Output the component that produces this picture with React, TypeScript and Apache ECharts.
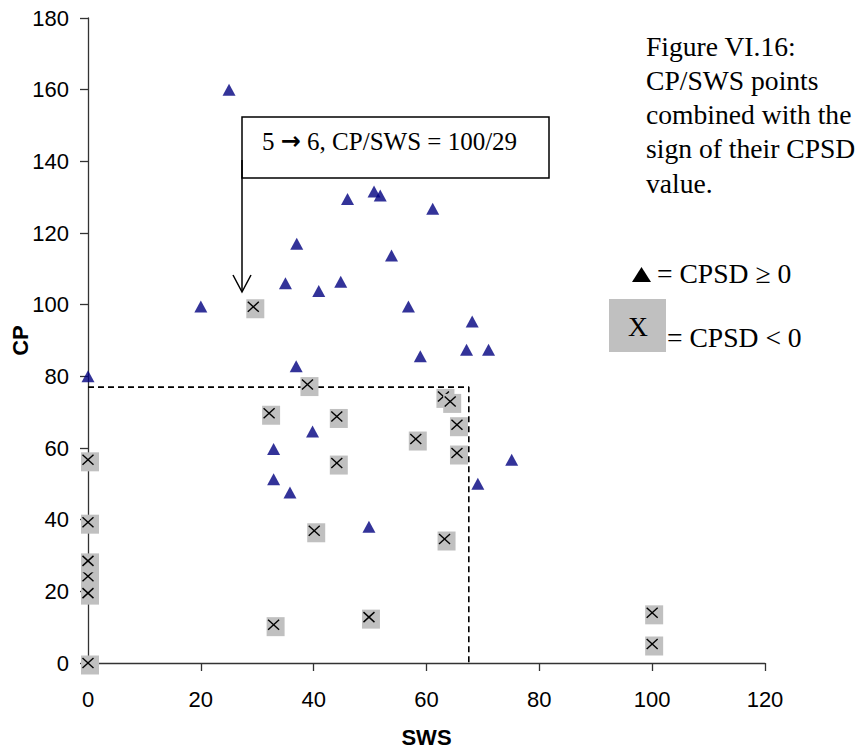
import React, { useEffect, useRef } from "react";
import * as echarts from "echarts";

// CPSD >= 0 points (triangles)
const posSWS = [25, 20, 35, 37, 46, 50.7, 51.8, 61.1, 53.8, 40.9, 44.8, 56.8, 68.1, 67.1, 71.0, 58.9, 0, 36.9, 32.9, 32.9, 35.8, 39.8, 75.1, 69.1, 49.8];
const posCP = [160, 99.5, 106, 117, 129.5, 131.6, 130.5, 126.8, 113.7, 103.8, 106.4, 99.5, 95.3, 87.4, 87.4, 85.6, 80, 82.8, 59.7, 51.3, 47.6, 64.6, 56.7, 50, 38];

// CPSD < 0 points (X in grey box)
const negSWS = [0, 29.3, 0, 0, 0, 0, 0, 32.1, 32.9, 38.9, 44.1, 63.0, 64.2, 65.4, 58.1, 65.4, 44.1, 40.1, 63.2, 49.8, 100, 100];
const negCP = [24.2, 99.4, 56.7, 39.3, 28.5, 19.5, 0, 69.7, 10.7, 77.7, 68.8, 74.4, 73.0, 66.5, 62.5, 58.6, 55.8, 36.9, 34.6, 12.8, 14.0, 5.3];

// dashed threshold lines
const dashSWS = [0, 67.5, 67.5];
const dashCP = [77, 77, 0];

const titleLines = ["Figure VI.16:", "CP/SWS points", "combined with the", "sign of their CPSD", "value."];

export default function App() {
  const ref = useRef<HTMLDivElement>(null);
  useEffect(() => {
    document.body.style.margin = "0";
    const chart = echarts.init(ref.current as HTMLDivElement, null, { renderer: "svg" });
    const serif = "'Liberation Serif', 'Times New Roman', serif";
    const sans = "'Liberation Sans', Arial, sans-serif";
    const axisColor = "#333";

    const posData = posSWS.map((x, i) => [x, posCP[i]]);
    const negData = negSWS.map((x, i) => [x, negCP[i]]);
    const dashData = dashSWS.map((x, i) => [x, dashCP[i]]);

    const graphic: any[] = [
      {
        type: "rect",
        shape: { x: 242, y: 117, width: 307, height: 61 },
        style: { fill: "#fff", stroke: "#000", lineWidth: 1.5 },
        z: 100,
      },
      {
        type: "text",
        x: 262,
        y: 141,
        style: {
          text: "5 {a|\u2192} 6, CP/SWS = 100/29",
          font: `25px ${serif}`,
          fill: "#000",
          verticalAlign: "middle",
          align: "left",
          rich: {
            a: { fontFamily: "'DejaVu Sans', sans-serif", fontSize: 24, fontWeight: "bold", fill: "#000" },
          },
        },
        z: 101,
      },
      {
        type: "line",
        shape: { x1: 242, y1: 160, x2: 242, y2: 291 },
        style: { stroke: "#000", lineWidth: 1.5 },
        z: 101,
      },
      {
        type: "polyline",
        shape: { points: [[233, 275], [242, 292], [251, 275]] },
        style: { stroke: "#000", lineWidth: 1.5, fill: "none" },
        z: 101,
      },
      ...titleLines.map((t, i) => ({
        type: "text",
        x: 646,
        y: 46 + i * 34.3,
        style: { text: t, font: `27.6px ${serif}`, fill: "#000", verticalAlign: "middle", align: "left" },
      })),
      {
        type: "polygon",
        shape: { points: [[632, 282], [651, 282], [641.5, 267]] },
        style: { fill: "#000" },
      },
      {
        type: "text",
        x: 657,
        y: 273,
        style: { text: "= CPSD \u2265 0", font: `27.6px ${serif}`, fill: "#000", verticalAlign: "middle", align: "left" },
      },
      {
        type: "rect",
        shape: { x: 609, y: 299, width: 57, height: 53 },
        style: { fill: "#c0c0c0" },
      },
      {
        type: "text",
        x: 638,
        y: 326,
        style: { text: "X", font: `27.6px ${serif}`, fill: "#000", verticalAlign: "middle", align: "center" },
      },
      {
        type: "text",
        x: 667,
        y: 337,
        style: { text: "= CPSD < 0", font: `27.6px ${serif}`, fill: "#000", verticalAlign: "middle", align: "left" },
      },
    ];

    chart.setOption({
      animation: false,
      backgroundColor: "#fff",
      grid: { left: 88, right: 91, top: 18, bottom: 88, containLabel: false, outerBoundsMode: "none" },
      xAxis: {
        type: "value",
        min: 0,
        max: 120,
        interval: 20,
        name: "SWS",
        nameLocation: "middle",
        nameGap: 63,
        nameMoveOverlap: false,
        nameTextStyle: { fontFamily: sans, fontWeight: "bold", fontSize: 22, color: "#000" },
        axisLine: { show: true, onZero: false, lineStyle: { color: axisColor, width: 1.3 } },
        axisTick: { show: true, length: 8, lineStyle: { color: axisColor, width: 1.3 } },
        axisLabel: { margin: 25, fontFamily: sans, fontSize: 22, color: "#000" },
        splitLine: { show: false },
      },
      yAxis: {
        type: "value",
        min: 0,
        max: 180,
        interval: 20,
        name: "CP",
        nameLocation: "middle",
        nameGap: 57,
        nameMoveOverlap: false,
        nameTextStyle: { fontFamily: sans, fontWeight: "bold", fontSize: 22, color: "#000" },
        axisLine: { show: true, onZero: false, lineStyle: { color: axisColor, width: 1.3 } },
        axisTick: { show: true, length: 8, lineStyle: { color: axisColor, width: 1.3 } },
        axisLabel: { margin: 19, fontFamily: sans, fontSize: 22, color: "#000" },
        splitLine: { show: false },
      },
      series: [
        {
          type: "line",
          data: dashData,
          symbol: "none",
          lineStyle: { color: "#000", width: 1.6, type: [6, 4] },
          z: 1,
          silent: true,
        },
        {
          type: "scatter",
          data: posData,
          symbol: "triangle",
          symbolSize: [13, 12],
          itemStyle: { color: "#000080" },
          z: 3,
        },
        {
          type: "custom",
          data: negData,
          clip: false,
          z: 2,
          renderItem: (params: any, api: any) => {
            const p = api.coord([api.value(0), api.value(1)]);
            const cx = p[0];
            const cy = p[1];
            return {
              type: "group",
              children: [
                {
                  type: "rect",
                  shape: { x: cx - 7, y: cy - 7.5, width: 18, height: 19 },
                  style: { fill: "#c0c0c0" },
                },
                {
                  type: "line",
                  shape: { x1: cx - 5.5, y1: cy - 5, x2: cx + 5.5, y2: cy + 5 },
                  style: { stroke: "#000", lineWidth: 1.4 },
                },
                {
                  type: "line",
                  shape: { x1: cx + 5.5, y1: cy - 5, x2: cx - 5.5, y2: cy + 5 },
                  style: { stroke: "#000", lineWidth: 1.4 },
                },
              ],
            };
          },
        },
      ],
      graphic,
    });
    return () => {
      chart.dispose();
    };
  }, []);
  return <div ref={ref} style={{ width: 856, height: 751 }} />;
}
